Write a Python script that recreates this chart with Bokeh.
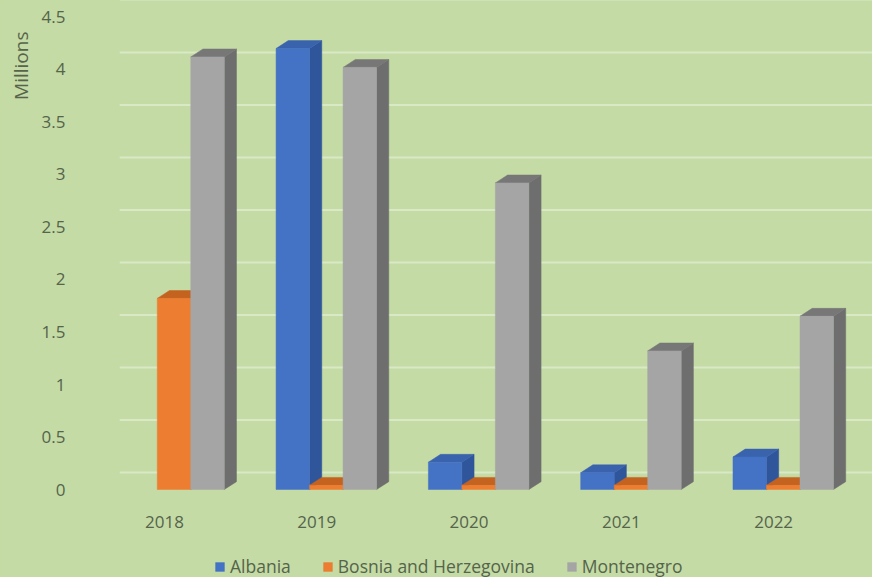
import math
from bokeh.plotting import figure
from bokeh.models import (Range1d, FixedTicker, Span, Legend, LegendItem,
                          ColumnDataSource, Title)
from bokeh.core.properties import value
from bokeh.embed import file_html
from bokeh.resources import INLINE

# ---- data ----
years = ["2018", "2019", "2020", "2021", "2022"]
series_names = ["Albania", "Bosnia and Herzegovina", "Montenegro"]
albania = [0.0, 4.20, 0.26, 0.16, 0.31]
bosnia = [1.82, 0.04, 0.04, 0.04, 0.04]
montenegro = [4.12, 4.02, 2.92, 1.32, 1.65]
y_ticks = [0, 0.5, 1, 1.5, 2, 2.5, 3, 3.5, 4, 4.5]
y_tick_labels = ["0", "0.5", "1", "1.5", "2", "2.5", "3", "3.5", "4", "4.5"]
unit_label = "Millions"

# ---- style ----
BG = "#c4dba5"
GRID = "#d9e9c6"
TEXT = "#55644b"
FONT = "Open Sans"
front_colors = ["#4472C4", "#ED7D31", "#A5A5A5"]
side_colors = ["#2F559A", "#B95A1E", "#6E6E6E"]
top_colors = ["#3A63AE", "#C4621F", "#777777"]

bar_w = 0.22          # width of one bar (category units)
group_shift = 0.063   # whole group offset from the tick
depth_x = 0.08        # 3D depth, x units
depth_y = 0.075       # 3D depth, y units
wall_shift = 0.162    # back-wall gridline shift, y units
cat_label_y = -0.314  # where the category labels sit (below the floor)

values = [albania, bosnia, montenegro]

faces = []
for s, vals in enumerate(values):
    for i, v in enumerate(vals):
        if v <= 0:
            continue
        cx = i + group_shift + (s - 1) * bar_w
        x0, x1 = cx - bar_w / 2, cx + bar_w / 2
        faces.append(dict(key=(x0, 0), xs=[x1, x1 + depth_x, x1 + depth_x, x1],
                          ys=[0, depth_y, v + depth_y, v], color=side_colors[s], s=s, front=False))
        faces.append(dict(key=(x0, 1), xs=[x0, x1, x1 + depth_x, x0 + depth_x],
                          ys=[v, v, v + depth_y, v + depth_y], color=top_colors[s], s=s, front=False))
        faces.append(dict(key=(x0, 2), xs=[x0, x1, x1, x0],
                          ys=[0, 0, v, v], color=front_colors[s], s=s, front=True))

faces.sort(key=lambda f: f["key"])
first_front_idx = {}
for k, f in enumerate(faces):
    if f["front"] and f["s"] not in first_front_idx:
        first_front_idx[f["s"]] = k

src = ColumnDataSource(dict(xs=[f["xs"] for f in faces],
                            ys=[f["ys"] for f in faces],
                            color=[f["color"] for f in faces]))

p = figure(width=872, height=577, output_backend="svg", toolbar_location=None,
           x_range=Range1d(-0.295, 4.649), y_range=Range1d(-0.838, 4.657),
           min_border_left=118, min_border_right=0, min_border_top=0,
           min_border_bottom=0)
p.background_fill_color = BG
p.border_fill_color = BG
p.outline_line_color = None
p.xgrid.visible = False
p.ygrid.visible = False
p.xaxis.visible = False

for t in y_ticks:
    p.add_layout(Span(location=t + wall_shift, dimension="width", line_color=GRID,
                      line_width=2, level="underlay"))

r = p.patches("xs", "ys", source=src, fill_color="color", line_color="color",
              line_width=0.5)

# category labels under the floor
p.text(x=list(range(len(years))), y=[cat_label_y] * len(years), text=years,
       text_align="center", text_baseline="middle", text_color=TEXT,
       text_font=value(FONT), text_font_size="17px")

# y axis
p.yaxis.ticker = FixedTicker(ticks=y_ticks)
p.yaxis.major_label_overrides = {t: lab for t, lab in zip(y_ticks, y_tick_labels)}
ax = p.yaxis[0]
ax.axis_line_color = None
ax.major_tick_line_color = None
ax.minor_tick_line_color = None
ax.major_tick_in = 0
ax.major_tick_out = 0
ax.major_label_text_color = TEXT
ax.major_label_text_font = FONT
ax.major_label_text_font_size = "17px"
ax.major_label_standoff = 54

p.add_layout(Title(text=unit_label, align="right", offset=31, text_color=TEXT,
                   text_font=FONT, text_font_size="19px", text_font_style="normal",
                   standoff=10), "left")

items = [LegendItem(label=series_names[s], renderers=[r], index=first_front_idx[s])
         for s in range(3)]
legend = Legend(items=items, orientation="horizontal", location=(95, -1),
                background_fill_alpha=0, border_line_alpha=0, padding=0,
                margin=0, spacing=31, label_standoff=5, glyph_width=11,
                glyph_height=11, label_text_color=TEXT, label_text_font=FONT,
                label_text_font_size="17.5px")
p.add_layout(legend, "center")

html = file_html(p, INLINE)
html = html.replace("</head>", "<style>html,body{background:%s;}</style></head>" % BG, 1)
open("out.html", "w").write(html)
